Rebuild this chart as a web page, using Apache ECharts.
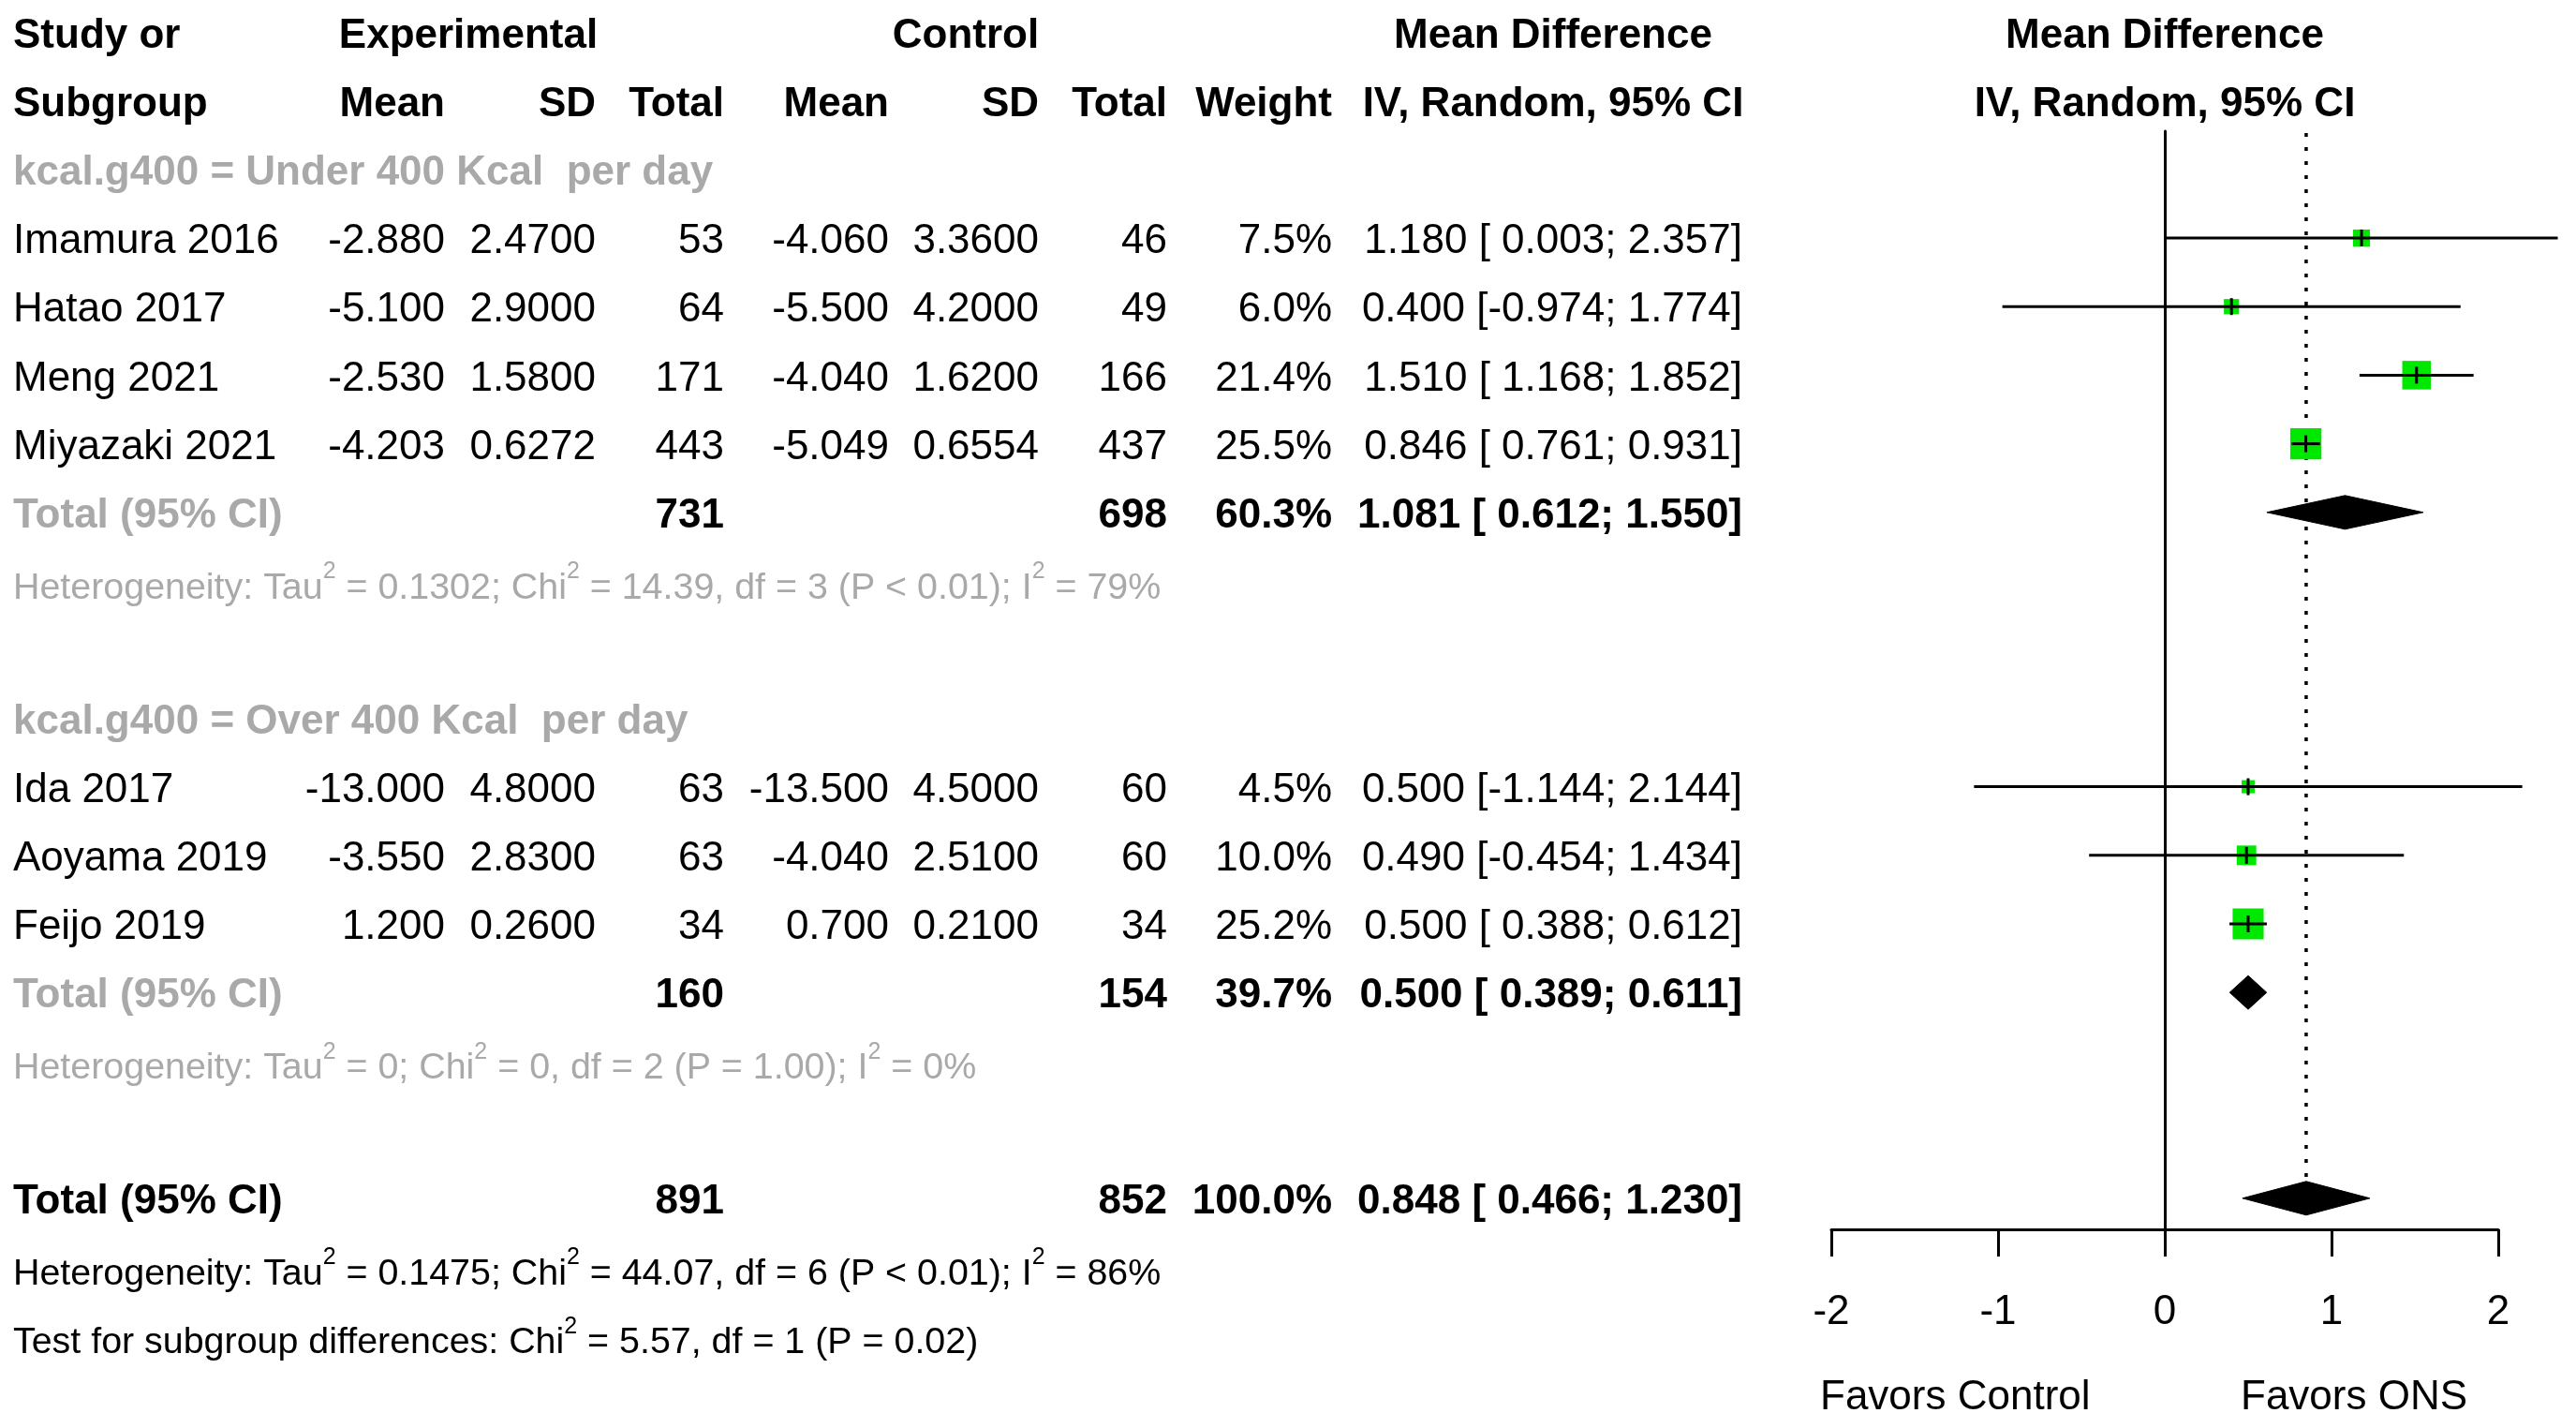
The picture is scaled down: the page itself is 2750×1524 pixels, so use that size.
<!DOCTYPE html>
<html><head><meta charset="utf-8">
<script src="https://cdn.jsdelivr.net/npm/echarts@6/dist/echarts.min.js"></script>
<style>html,body{margin:0;padding:0;background:#fff}#c{width:2750px;height:1524px}</style>
</head><body><div id="c"></div>
<script>
// ---------------- data ----------------
const studies   = ['Imamura 2016','Hatao 2017','Meng 2021','Miyazaki 2021','Ida 2017','Aoyama 2019','Feijo 2019'];
const groupOf   = [0,0,0,0,1,1,1];
const expMean   = [-2.880,-5.100,-2.530,-4.203,-13.000,-3.550,1.200];
const expSD     = [2.4700,2.9000,1.5800,0.6272,4.8000,2.8300,0.2600];
const expN      = [53,64,171,443,63,63,34];
const ctrlMean  = [-4.060,-5.500,-4.040,-5.049,-13.500,-4.040,0.700];
const ctrlSD    = [3.3600,4.2000,1.6200,0.6554,4.5000,2.5100,0.2100];
const ctrlN     = [46,49,166,437,60,60,34];
const weight    = [7.5,6.0,21.4,25.5,4.5,10.0,25.2];
const md        = [1.180,0.400,1.510,0.846,0.500,0.490,0.500];
const lower     = [0.003,-0.974,1.168,0.761,-1.144,-0.454,0.388];
const upper     = [2.357,1.774,1.852,0.931,2.144,1.434,0.612];

const groupLabels = ['kcal.g400 = Under 400 Kcal  per day','kcal.g400 = Over 400 Kcal  per day'];
const groupExpN   = [731,160];
const groupCtrlN  = [698,154];
const groupWeight = [60.3,39.7];
const groupMD     = [1.081,0.500];
const groupLower  = [0.612,0.389];
const groupUpper  = [1.550,0.611];
const groupTau2   = ['0.1302','0'];
const groupChi2   = ['14.39','0'];
const groupDf     = [3,2];
const groupP      = ['P < 0.01','P = 1.00'];
const groupI2     = ['79%','0%'];

const totalExpN = 891, totalCtrlN = 852, totalWeight = 100.0;
const totalMD = 0.848, totalLower = 0.466, totalUpper = 1.230;
const totalTau2 = '0.1475', totalChi2 = '44.07', totalDf = 6, totalP = 'P < 0.01', totalI2 = '86%';
const testChi2 = '5.57', testDf = 1, testP = 'P = 0.02';

const xTicks = [-2,-1,0,1,2];
const favorLabels = ['Favors Control','Favors ONS'];

// ---------------- layout ----------------
const W = 2750, H = 1524;
const ROW4_Y = 254, ROW_H = 73.2;
const yOf = r => ROW4_Y + (r - 4) * ROW_H;
const rowOfY = y => 4 + (y - ROW4_Y) / ROW_H;
const FOREST_TOP = 140, AXIS_Y = 1312, FOREST_L = 1955, FOREST_R = 2667;
const FONT = "'Liberation Sans', Arial, sans-serif";
const FS = 44, FS_HET = 39.4, FS_SUP = 25;
const TEXT_DY = 4, RICH_DY = 8;
const BLACK = '#000000', GRAY = '#a9a9a9', GREEN = '#00e800';
const COL = {study:14, eMean:475, eSD:636, eN:773, cMean:949, cSD:1109, cN:1246, w:1422, ci:1860, ciHead:1658, expHead:500, ctrlHead:1031, favC:1943, favO:2392};
const FAVOR_Y = 1492;

const studyRows = [4,5,6,7,12,13,14];
const groupLabelRows = [3,11];
const groupTotalRows = [8,15];
const groupHetRows = [9,16];
const TOTAL_ROW = 18, HET_ROW = 19, TEST_ROW = 20;

const f3 = v => v.toFixed(3);
const f4 = v => v.toFixed(4);
const ciText = (m,l,u) => f3(m) + ' [' + (l < 0 ? '' : ' ') + f3(l) + '; ' + f3(u) + ']';

// ---------------- text cells ----------------
const cells = [];
function cell(x, row, text, opt) {
  cells.push(Object.assign({x, row, text, align:'left', bold:false, color:BLACK, size:FS}, opt || {}));
}
cell(COL.study, 1, 'Study or', {bold:true});
cell(COL.study, 2, 'Subgroup', {bold:true});
cell(COL.expHead, 1, 'Experimental', {bold:true, align:'center'});
cell(COL.ctrlHead, 1, 'Control', {bold:true, align:'center'});
cell(COL.ciHead, 1, 'Mean Difference', {bold:true, align:'center'});
cell(COL.eMean, 2, 'Mean', {bold:true, align:'right'});
cell(COL.eSD, 2, 'SD', {bold:true, align:'right'});
cell(COL.eN, 2, 'Total', {bold:true, align:'right'});
cell(COL.cMean, 2, 'Mean', {bold:true, align:'right'});
cell(COL.cSD, 2, 'SD', {bold:true, align:'right'});
cell(COL.cN, 2, 'Total', {bold:true, align:'right'});
cell(COL.w, 2, 'Weight', {bold:true, align:'right'});
cell(COL.ciHead, 2, 'IV, Random, 95% CI', {bold:true, align:'center'});

function hetRich(tau2, chi2, df, p, i2) {
  return '{n|Heterogeneity: Tau}{s|2}{n| = ' + tau2 + '; Chi}{s|2}{n| = ' + chi2 + ', df = ' + df + ' (' + p + '); I}{s|2}{n| = ' + i2 + '}';
}

for (let g = 0; g < 2; g++) {
  cell(COL.study, groupLabelRows[g], groupLabels[g], {bold:true, color:GRAY});
  studies.forEach((s, i) => {
    if (groupOf[i] !== g) return;
    const r = studyRows[i];
    cell(COL.study, r, s);
    cell(COL.eMean, r, f3(expMean[i]), {align:'right'});
    cell(COL.eSD, r, f4(expSD[i]), {align:'right'});
    cell(COL.eN, r, String(expN[i]), {align:'right'});
    cell(COL.cMean, r, f3(ctrlMean[i]), {align:'right'});
    cell(COL.cSD, r, f4(ctrlSD[i]), {align:'right'});
    cell(COL.cN, r, String(ctrlN[i]), {align:'right'});
    cell(COL.w, r, weight[i].toFixed(1) + '%', {align:'right'});
    cell(COL.ci, r, ciText(md[i], lower[i], upper[i]), {align:'right'});
  });
  const tr = groupTotalRows[g];
  cell(COL.study, tr, 'Total (95% CI)', {bold:true, color:GRAY});
  cell(COL.eN, tr, String(groupExpN[g]), {bold:true, align:'right'});
  cell(COL.cN, tr, String(groupCtrlN[g]), {bold:true, align:'right'});
  cell(COL.w, tr, groupWeight[g].toFixed(1) + '%', {bold:true, align:'right'});
  cell(COL.ci, tr, ciText(groupMD[g], groupLower[g], groupUpper[g]), {bold:true, align:'right'});
  cell(COL.study, groupHetRows[g], hetRich(groupTau2[g], groupChi2[g], groupDf[g], groupP[g], groupI2[g]), {rich:true, color:GRAY, size:FS_HET});
}
cell(COL.study, TOTAL_ROW, 'Total (95% CI)', {bold:true});
cell(COL.eN, TOTAL_ROW, String(totalExpN), {bold:true, align:'right'});
cell(COL.cN, TOTAL_ROW, String(totalCtrlN), {bold:true, align:'right'});
cell(COL.w, TOTAL_ROW, totalWeight.toFixed(1) + '%', {bold:true, align:'right'});
cell(COL.ci, TOTAL_ROW, ciText(totalMD, totalLower, totalUpper), {bold:true, align:'right'});
cell(COL.study, HET_ROW, hetRich(totalTau2, totalChi2, totalDf, totalP, totalI2), {rich:true, size:FS_HET});
cell(COL.study, TEST_ROW, '{n|Test for subgroup differences: Chi}{s|2}{n| = ' + testChi2 + ', df = ' + testDf + ' (' + testP + ')}', {rich:true, size:FS_HET});
cell(COL.favC, rowOfY(FAVOR_Y - TEXT_DY), favorLabels[0], {size:44});
cell(COL.favO, rowOfY(FAVOR_Y - TEXT_DY), favorLabels[1], {size:44});

function textEl(c, x, y) {
  const style = {
    text: c.text, fill: c.color, fontFamily: FONT, fontSize: c.size,
    fontWeight: c.bold ? 'bold' : 'normal', align: c.align, verticalAlign: 'middle'
  };
  let dy = TEXT_DY;
  if (c.rich) {
    dy = RICH_DY;
    style.rich = {
      n: {fontFamily: FONT, fontSize: c.size, fill: c.color, lineHeight: 60, verticalAlign: 'middle'},
      s: {fontFamily: FONT, fontSize: FS_SUP, fill: c.color, lineHeight: 26, verticalAlign: 'top'}
    };
  }
  return {type:'text', x, y: y + dy, style, silent:true};
}

// ---------------- forest data ----------------
const studyData = studies.map((s, i) => [md[i], lower[i], upper[i], studyRows[i], weight[i]]);
const diamondData = [
  [groupMD[0], groupLower[0], groupUpper[0], groupTotalRows[0]],
  [groupMD[1], groupLower[1], groupUpper[1], groupTotalRows[1]],
  [totalMD, totalLower, totalUpper, TOTAL_ROW]
];
const forestHeads = [['Mean Difference', 1], ['IV, Random, 95% CI', 2]];

const chart = echarts.init(document.getElementById('c'), null, {renderer:'canvas'});
const yMinF = rowOfY(FOREST_TOP), yMaxF = rowOfY(AXIS_Y);

chart.setOption({
  backgroundColor: '#ffffff',
  animation: false,
  grid: [
    {left:0, right:0, top:yOf(1), bottom:H - yOf(20)},
    {left:FOREST_L, right:W - FOREST_R, top:FOREST_TOP, bottom:H - AXIS_Y}
  ],
  xAxis: [
    {gridIndex:0, type:'value', min:0, max:W, show:false},
    {gridIndex:1, type:'value', min:-2, max:2, interval:1,
      axisLine:{show:true, onZero:false, lineStyle:{color:'#000', width:3}},
      axisTick:{show:true, length:29, lineStyle:{color:'#000', width:3}},
      axisLabel:{show:true, margin:67, fontSize:44, fontFamily:FONT, color:'#000',
        formatter: v => xTicks.indexOf(v) >= 0 ? String(v) : ''},
      splitLine:{show:false}}
  ],
  yAxis: [
    {gridIndex:0, type:'value', min:1, max:20, inverse:true, show:false},
    {gridIndex:1, type:'value', min:yMinF, max:yMaxF, inverse:true,
      axisLine:{show:true, onZero:true, lineStyle:{color:'#000', width:3}},
      axisTick:{show:false}, axisLabel:{show:false}, splitLine:{show:false}}
  ],
  series: [
    {
      type:'custom', name:'table', xAxisIndex:0, yAxisIndex:0, silent:true, z:5,
      data: cells.map(c => [c.x, c.row]),
      renderItem: (params, api) => {
        const c = cells[params.dataIndex];
        const p = api.coord([api.value(0), api.value(1)]);
        return textEl(c, p[0], p[1]);
      }
    },
    {
      type:'custom', name:'forestHeads', xAxisIndex:1, yAxisIndex:1, silent:true, z:5,
      data: forestHeads.map(h => [0, h[1]]),
      renderItem: (params, api) => {
        const p = api.coord([api.value(0), api.value(1)]);
        return textEl({text:forestHeads[params.dataIndex][0], color:BLACK, size:FS, bold:true, align:'center'}, p[0], p[1]);
      }
    },
    {
      type:'custom', name:'refline', xAxisIndex:1, yAxisIndex:1, silent:true, z:2,
      data: [[totalMD, TOTAL_ROW]],
      renderItem: (params, api) => {
        const a = api.coord([api.value(0), yMinF]);
        const b = api.coord([api.value(0), api.value(1)]);
        return {type:'line', shape:{x1:a[0], y1:a[1] + 2, x2:b[0], y2:b[1] - 10},
          style:{stroke:'#000', lineWidth:3.5, lineDash:[4,11], lineCap:'butt'}};
      }
    },
    {
      type:'custom', name:'studies', xAxisIndex:1, yAxisIndex:1, silent:true, z:3,
      data: studyData,
      renderItem: (params, api) => {
        const c = api.coord([api.value(0), api.value(3)]);
        const l = api.coord([api.value(1), api.value(3)]);
        const u = api.coord([api.value(2), api.value(3)]);
        const s = 6.6 * Math.sqrt(api.value(4));
        return {type:'group', children:[
          {type:'rect', shape:{x:c[0] - s/2, y:c[1] - s/2, width:s, height:s}, style:{fill:GREEN}},
          {type:'line', shape:{x1:l[0], y1:c[1], x2:u[0], y2:c[1]}, style:{stroke:'#000', lineWidth:3}},
          {type:'line', shape:{x1:c[0], y1:c[1] - 9, x2:c[0], y2:c[1] + 9}, style:{stroke:'#000', lineWidth:3}}
        ]};
      }
    },
    {
      type:'custom', name:'pooled', xAxisIndex:1, yAxisIndex:1, silent:true, z:4,
      data: diamondData,
      renderItem: (params, api) => {
        const c = api.coord([api.value(0), api.value(3)]);
        const l = api.coord([api.value(1), api.value(3)]);
        const u = api.coord([api.value(2), api.value(3)]);
        const h = 18;
        return {type:'polygon', shape:{points:[[l[0], c[1]], [c[0], c[1] - h], [u[0], c[1]], [c[0], c[1] + h]]},
          style:{fill:'#000', stroke:'#000', lineWidth:1}};
      }
    }
  ]
});
</script>
</body></html>
